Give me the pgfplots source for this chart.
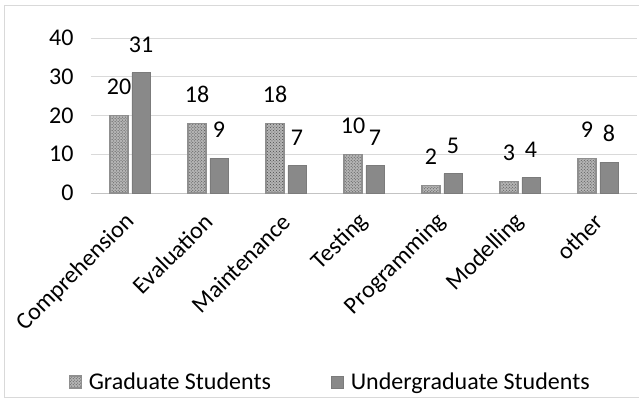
\documentclass[border=0pt]{standalone}
\usepackage{fontspec}
\setmainfont{Carlito}
\usepackage{pgfplots}
\pgfplotsset{compat=1.18}
\usetikzlibrary{patterns}

\definecolor{gridgray}{HTML}{D9D9D9}
\definecolor{undergrad}{HTML}{898989}
\definecolor{gradfill}{HTML}{B4B4B4}
\definecolor{gradedge}{HTML}{8F8F8F}

\begin{document}
\begin{tikzpicture}
% page = the reference's 639 x 401 px, axis box at (91,38)-(637,193)
\path[use as bounding box] (-91bp,-208bp) rectangle (548bp,193bp);
\draw[gridgray, line width=1bp] (-86bp,-204bp) rectangle (560bp,187bp);

\begin{axis}[
  at={(0,0)}, anchor=south west,
  scale only axis,
  width=546bp, height=155bp,
  ybar=4bp, bar width=18bp,
  xmin=-0.5, xmax=6.5,
  ymin=0, ymax=40,
  ytick={0,10,20,30,40},
  xtick=data,
  xticklabels={Comprehension,Evaluation,Maintenance,Testing,Programming,Modelling,other},
  font=\fontsize{24bp}{28bp}\selectfont,
  /pgf/number format/assume math mode=true,
  axis line style={draw=none},
  major tick length=0pt,
  ymajorgrids,
  grid style={gridgray, line width=1bp},
  extra y ticks={0},
  extra y tick labels={},
  extra y tick style={grid style={draw=gridgray!90!black, line width=1bp}},
  yticklabel style={xshift=-14bp},
  % shifts below act in the rotated frame
  xticklabel style={rotate=45, anchor=east, inner sep=0pt, yshift=-18bp, xshift=-17bp},
  nodes near coords,
  every node near coord/.append style={anchor=south, inner sep=0pt, yshift=20bp, black},
  legend style={at={(0.438,-1.219)}, anchor=center, draw=none, fill=none,
    legend columns=2,
    /tikz/every odd column/.append style={column sep=5bp},
    /tikz/every even column/.append style={column sep=58bp},
    font=\fontsize{24bp}{28bp}\selectfont},
  legend image code/.code={\draw[#1] (0bp,-6bp) rectangle (12bp,6bp);},
]
\addplot[fill=gradfill, draw=gradedge, line width=1.2bp,
  postaction={pattern=crosshatch dots, pattern color=black!70}]
  coordinates {(0,20) (1,18) (2,18) (3,10) (4,2) (5,3) (6,9)};
\addplot[fill=undergrad, draw=undergrad!90!black, line width=0.8bp]
  coordinates {(0,31) (1,9) (2,7) (3,7) (4,5) (5,4) (6,8)};
\legend{Graduate Students, Undergraduate Students}
\end{axis}
\end{tikzpicture}
\end{document}
